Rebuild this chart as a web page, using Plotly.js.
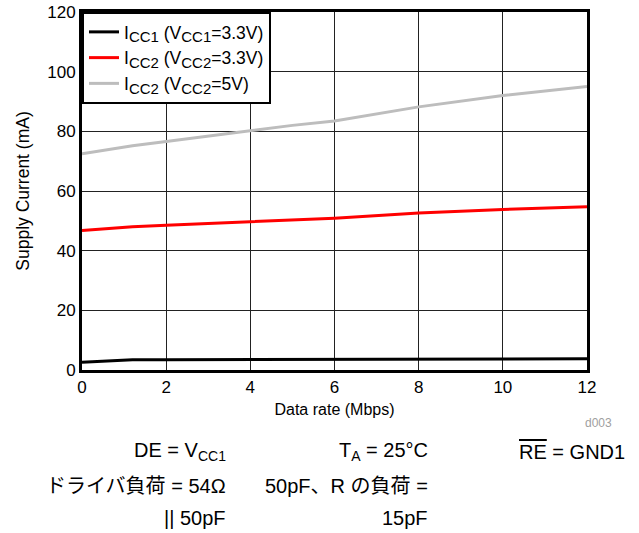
<!DOCTYPE html>
<html>
<head>
<meta charset="utf-8">
<script src="https://cdn.plot.ly/plotly-3.0.1.min.js"></script>
<style>
  html, body { margin: 0; padding: 0; background: #fff; }
  #chart { width: 639px; height: 533px; }
</style>
</head>
<body>
<div id="chart"></div>
<script>
// Supply current versus data rate
const dataRate = [0, 1.2, 2, 4, 5, 6, 8, 10, 12];               // Mbps
const icc1_vcc1_3v3 = [2.6, 3.4, 3.4, 3.5, 3.5, 3.6, 3.7, 3.7, 3.8]; // mA
const icc2_vcc2_3v3 = [46.8, 48.0, 48.5, 49.8, 50.4, 50.9, 52.6, 53.8, 54.7];
const icc2_vcc2_5v = [72.5, 75.2, 76.6, 80.3, 82.0, 83.5, 88.2, 92.0, 95.0];

// legend subscripts are drawn a little larger than Plotly's default 70%
const sub = s => '<sub><span style="font-size:15px">' + s + '</span></sub>';
const seriesNames = [
  'I' + sub('CC1') + ' (V' + sub('CC1') + '=3.3V)',
  'I' + sub('CC2') + ' (V' + sub('CC2') + '=3.3V)',
  'I' + sub('CC2') + ' (V' + sub('CC2') + '=5V)'
];
const xTicks = [0, 2, 4, 6, 8, 10, 12];
const yTicks = [0, 20, 40, 60, 80, 100, 120];

const FONT = 'Liberation Sans, Arial, Helvetica, sans-serif';
const JP_FONT = 'Liberation Sans, Noto Sans CJK JP, sans-serif';

const traces = [
  { x: dataRate, y: icc1_vcc1_3v3, name: seriesNames[0], color: '#000000' },
  { x: dataRate, y: icc2_vcc2_3v3, name: seriesNames[1], color: '#FF0000' },
  { x: dataRate, y: icc2_vcc2_5v, name: seriesNames[2], color: '#BDBDBD' }
].map(s => ({
  type: 'scatter', mode: 'lines', x: s.x, y: s.y, name: s.name,
  line: { color: s.color, width: 3 }
}));

const noteFont = { family: JP_FONT, size: 20, color: '#000' };
function note(text, x, y, anchor) {
  return { text, x, y, xref: 'paper', yref: 'paper', xanchor: anchor,
           yanchor: 'middle', showarrow: false, font: noteFont };
}

const layout = {
  width: 639, height: 533,
  margin: { l: 82, r: 52, t: 12, b: 163 },
  paper_bgcolor: '#fff', plot_bgcolor: '#fff',
  font: { family: FONT, color: '#000' },
  showlegend: true,
  legend: {
    x: 0, y: 1, xanchor: 'left', yanchor: 'top',
    bgcolor: '#fff', bordercolor: '#000', borderwidth: 2,
    font: { family: FONT, size: 17.5, color: '#000' },
    tracegroupgap: 0, entrywidth: 200
  },
  xaxis: {
    range: [0, 12], tickvals: xTicks, ticks: '',
    showgrid: true, gridcolor: '#222', gridwidth: 1,
    zeroline: false, showline: true, linecolor: '#000', linewidth: 3, mirror: true,
    tickfont: { family: FONT, size: 17 },
    title: { text: 'Data rate (Mbps)', font: { family: FONT, size: 16 }, standoff: 8 }
  },
  yaxis: {
    range: [0, 120], tickvals: yTicks, ticks: '',
    showgrid: true, gridcolor: '#222', gridwidth: 1,
    zeroline: false, showline: true, linecolor: '#000', linewidth: 3, mirror: true,
    tickfont: { family: FONT, size: 17 },
    title: { text: 'Supply Current (mA)', font: { family: FONT, size: 17.5 }, standoff: 14 }
  },
  annotations: [
    { text: 'd003', x: 1.022, y: -0.148, xref: 'paper', yref: 'paper',
      xanchor: 'center', yanchor: 'middle', showarrow: false,
      font: { family: FONT, size: 12, color: '#A0A0A0' } },
    note('DE = V<sub>CC1</sub>', 0.289, -0.229, 'right'),
    note('T<sub>A</sub> = 25°C', 0.689, -0.229, 'right'),
    note('<span style="text-decoration:overline">RE</span> = GND1', 0.861, -0.229, 'left'),
    note('ドライバ負荷 = 54Ω', 0.289, -0.324, 'right'),
    note('50pF、R の負荷 =', 0.689, -0.324, 'right'),
    note('|| 50pF', 0.289, -0.413, 'right'),
    note('15pF', 0.689, -0.413, 'right')
  ]
};

Plotly.newPlot('chart', traces, layout, { displayModeBar: false, staticPlot: true });
</script>
</body>
</html>
